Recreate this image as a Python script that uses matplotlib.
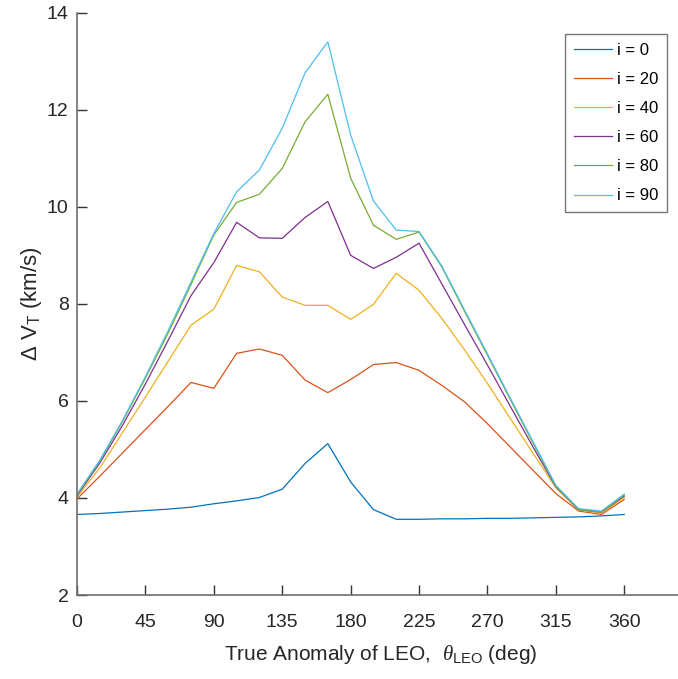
import numpy as np
import matplotlib
matplotlib.use("Agg")
import matplotlib.pyplot as plt

# true anomaly of LEO (deg)
theta = list(range(0, 361, 15))

# delta V total (km/s) for each inclination
dv_i0 = [3.66, 3.68, 3.71, 3.74, 3.77, 3.81, 3.88, 3.94, 4.01, 4.18, 4.71, 5.12, 4.33,
         3.76, 3.56, 3.56, 3.57, 3.57, 3.58, 3.58, 3.59, 3.60, 3.61, 3.63, 3.66]
dv_i20 = [3.98, 4.45, 4.93, 5.41, 5.89, 6.38, 6.26, 6.98, 7.07, 6.94, 6.43, 6.17, 6.44,
          6.75, 6.79, 6.63, 6.32, 5.98, 5.53, 5.05, 4.57, 4.09, 3.73, 3.66, 3.97]
dv_i40 = [4.02, 4.62, 5.35, 6.08, 6.82, 7.56, 7.89, 8.79, 8.66, 8.14, 7.97, 7.97, 7.68,
          7.99, 8.63, 8.28, 7.70, 7.05, 6.36, 5.64, 4.92, 4.21, 3.75, 3.69, 4.01]
dv_i60 = [4.05, 4.72, 5.50, 6.35, 7.25, 8.17, 8.85, 9.68, 9.36, 9.35, 9.78, 10.11, 9.00,
          8.73, 8.96, 9.25, 8.41, 7.57, 6.74, 5.89, 5.05, 4.23, 3.76, 3.71, 4.04]
dv_i80 = [4.07, 4.76, 5.58, 6.47, 7.40, 8.40, 9.42, 10.09, 10.26, 10.79, 11.75, 12.32, 10.59,
          9.62, 9.33, 9.48, 8.76, 7.84, 6.94, 6.03, 5.13, 4.24, 3.76, 3.71, 4.06]
dv_i90 = [4.08, 4.78, 5.60, 6.50, 7.45, 8.45, 9.45, 10.31, 10.76, 11.62, 12.76, 13.40, 11.48,
          10.12, 9.52, 9.49, 8.78, 7.87, 6.97, 6.06, 5.16, 4.26, 3.78, 3.73, 4.08]

labels = ["i = 0", "i = 20", "i = 40", "i = 60", "i = 80", "i = 90"]
xticks = [0, 45, 90, 135, 180, 225, 270, 315, 360]
yticks = [2, 4, 6, 8, 10, 12, 14]


def main():
  plt.rcParams['font.family'] = ['Liberation Sans', 'DejaVu Sans']
  plt.rcParams['mathtext.fontset'] = 'custom'
  plt.rcParams['mathtext.rm'] = 'Liberation Sans'
  plt.rcParams['mathtext.it'] = 'Liberation Serif:italic'

  # matlab default line colors
  colors = ["#0072BD", "#D95319", "#EDB120", "#7E2F8E", "#77AC30", "#4DBEEE"]
  series = [dv_i0, dv_i20, dv_i40, dv_i60, dv_i80, dv_i90]

  fig = plt.figure(figsize=(6.78, 6.79), dpi=100)
  ax = fig.add_axes([0.1136, 0.1237, 0.8968, 0.8576])

  for y, c, lab in zip(series, colors, labels):
    ax.plot(theta, y, color=c, lw=0.9, label=lab)

  ax.set_xlim(0, 400)
  ax.set_ylim(2, 14)
  ax.set_xticks(xticks)
  ax.set_yticks(yticks)

  axis_col = "#6e6e6e"
  for s in ["top", "right"]:
    ax.spines[s].set_visible(False)
  for s in ["left", "bottom"]:
    ax.spines[s].set_color(axis_col)
    ax.spines[s].set_linewidth(1.2)
  ax.tick_params(direction="in", length=7, width=1, color="#333333",
                 labelsize=14, labelcolor="#262626")
  ax.tick_params(axis="x", pad=14)
  ax.tick_params(axis="y", pad=6)

  ax.set_xlabel(r"True Anomaly of LEO,  $\theta_{\mathrm{LEO}}$ (deg)",
                fontsize=15, color="#262626", labelpad=8)
  ax.set_ylabel(r"Δ V$_{\mathrm{T}}$ (km/s)", fontsize=16, color="#262626", labelpad=2)

  leg = ax.legend(loc="upper right", bbox_to_anchor=(0.970, 0.963), borderaxespad=0,
                  fontsize=12, fancybox=False, handlelength=2.3, labelspacing=0.85,
                  borderpad=0.5, handletextpad=0.3)
  leg.get_frame().set_edgecolor("#555555")
  leg.get_frame().set_linewidth(1.0)

  fig.savefig("out.png", dpi=100)


if __name__ == "__main__":
  main()
